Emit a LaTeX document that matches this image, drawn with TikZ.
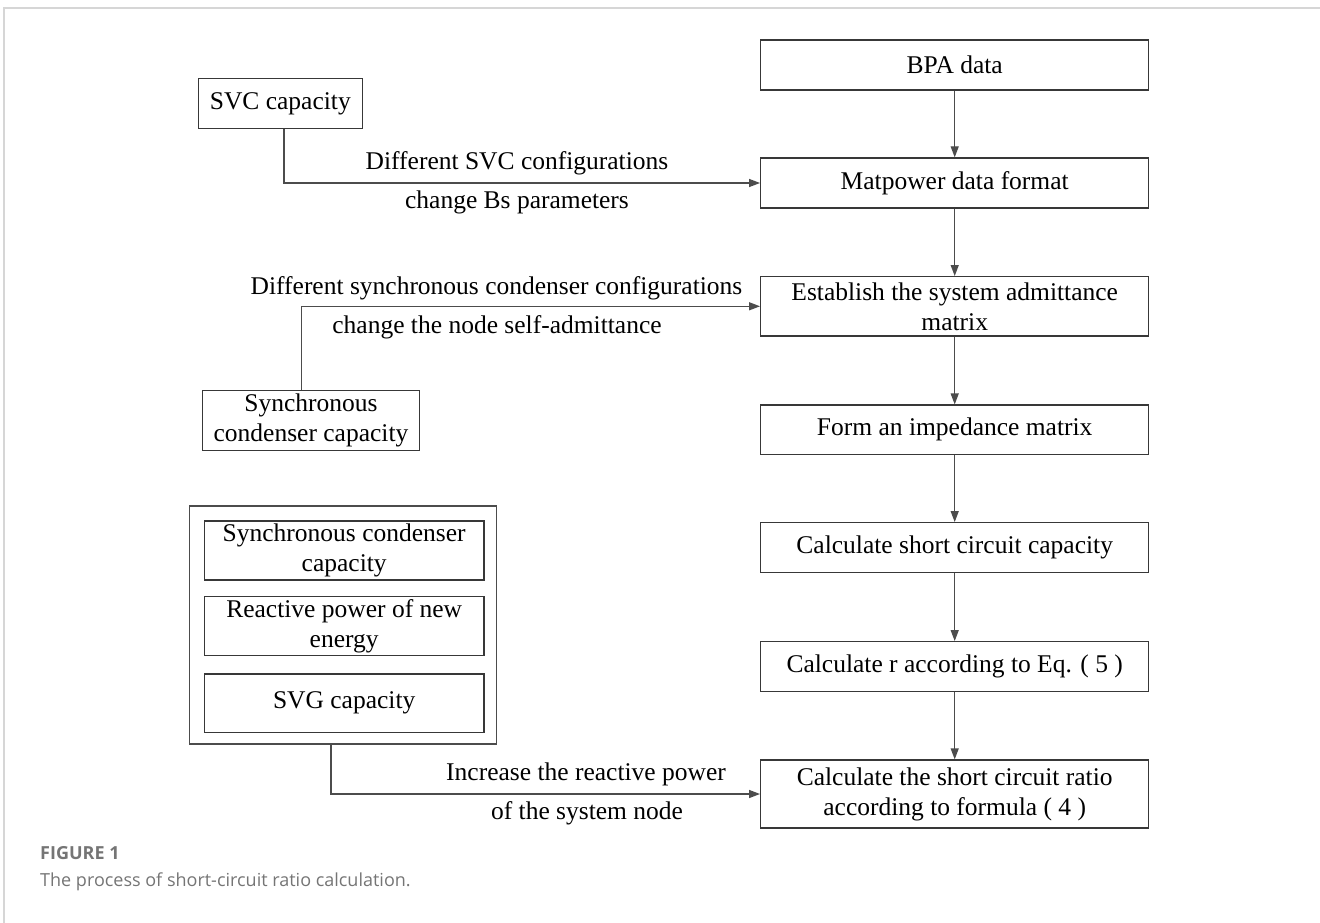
\documentclass[tikz,border=0pt]{standalone}
\usepackage{fontspec}
\setmainfont{Liberation Serif}
\newfontfamily\capfont{Open Sans}
\usetikzlibrary{arrows.meta}
\definecolor{boxc}{HTML}{383838}
\definecolor{linec}{HTML}{4C4C4C}
\definecolor{framec}{HTML}{D6D6D6}
\definecolor{capc}{HTML}{757575}
\begin{document}
\begin{tikzpicture}[x=1pt,y=-1pt,
  box/.style={draw=boxc, line width=1.3pt, align=center, inner sep=1pt,
    font=\fontsize{25.5}{30}\selectfont},
  rbox/.style={box, minimum width=388pt},
  gbox/.style={box, minimum width=279.7pt},
  lbl/.style={anchor=base, inner sep=0pt, font=\fontsize{25.5}{30}\selectfont},
  arr/.style={draw=linec, line width=1.3pt, -{Triangle[length=11pt,width=8pt]}},
  capt/.style={anchor=base west, inner sep=0pt, text=capc}
]
\useasboundingbox (0,0) rectangle (1320,923);
% card frame
\draw[framec, line width=2pt] (1320,8) -- (4,8) -- (4,923);

% right column
\node[rbox, minimum height=50pt]   (bpa) at (954.7,65)    {BPA data};
\node[rbox, minimum height=50pt]   (mat) at (954.7,183)   {Matpower data format};
\node[rbox, minimum height=59.3pt] (est) at (954.7,306.3) {Establish the system admittance\\matrix};
\node[rbox, minimum height=49.3pt] (imp) at (954.7,429.7) {Form an impedance matrix};
\node[rbox, minimum height=50pt]   (scc) at (954.7,547.7) {Calculate short circuit capacity};
\node[rbox, minimum height=50pt]   (cr)  at (954.7,666.7) {Calculate r according to Eq. ( 5 )};
\node[rbox, minimum height=68pt]   (scr) at (954.7,794)   {Calculate the short circuit ratio\\according to formula ( 4 )};

\draw[arr] (bpa) -- (mat);
\draw[arr] (mat) -- (est);
\draw[arr] (est) -- (imp);
\draw[arr] (imp) -- (scc);
\draw[arr] (scc) -- (cr);
\draw[arr] (cr) -- (scr);

% left side
\node[box, minimum width=163.8pt, minimum height=49.6pt] (svc) at (280.3,103.5) {SVC capacity};
\node[box, minimum width=216.6pt, minimum height=60pt] (syn) at (311,420.7) {Synchronous\\condenser capacity};

\node[draw=linec, line width=1.1pt, minimum width=306.7pt, minimum height=238pt, inner sep=0pt] (grp) at (342.7,625) {};
\node[gbox, minimum height=59pt]   (g1) at (344.2,550.5) {Synchronous condenser\\capacity};
\node[gbox, minimum height=59pt]   (g2) at (344.2,626.2) {Reactive power of new\\energy};
\node[gbox, minimum height=58.3pt] (g3) at (344.2,703.2) {SVG capacity};

\draw[arr] ([xshift=3.7pt]svc.south) |- (mat.west);
\draw[arr] ([xshift=-9.3pt]syn.north) |- (est.west);
\draw[arr] ([xshift=-11.7pt]grp.south) |- (scr.west);

% connector labels
\node[lbl] (l1a) at (517,169) {Different SVC configurations};
\node[lbl] (l1b) at (517,208) {change Bs parameters};
\node[lbl] (l2a) at (496.5,294) {Different synchronous condenser configurations};
\node[lbl] (l2b) at (497,333) {change the node self-admittance};
\node[lbl] (l3a) at (586,780) {Increase the reactive power};
\node[lbl] (l3b) at (587,819) {of the system node};

% caption
\node[capt, font=\capfont\bfseries\fontsize{18}{22}\selectfont] (fig) at (40,859) {FIGURE 1};
\node[capt, font=\capfont\fontsize{18}{22}\selectfont] (cap) at (40,886) {The process of short-circuit ratio calculation.};
\end{tikzpicture}
\end{document}
